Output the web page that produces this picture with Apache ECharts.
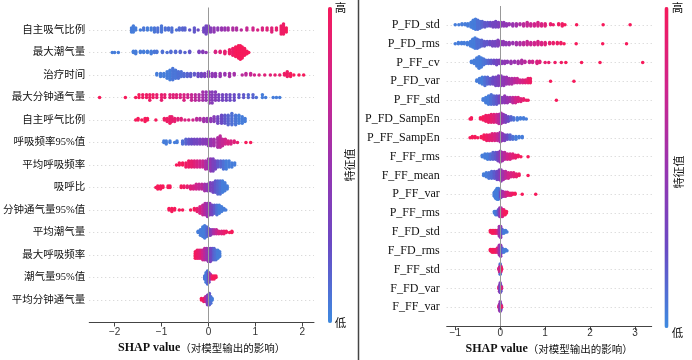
<!DOCTYPE html>
<html><head><meta charset="utf-8">
<script src="https://cdn.jsdelivr.net/npm/echarts@6/dist/echarts.min.js"></script>
<style>html,body{margin:0;padding:0;background:#fff}#c{width:692px;height:360px}</style>
</head><body><div id="c"></div>
<script>
// ---------- labels ----------
const leftFeatures = ['自主吸气比例','最大潮气量','治疗时间','最大分钟通气量','自主呼气比例','呼吸频率95%值','平均呼吸频率','吸呼比','分钟通气量95%值','平均潮气量','最大呼吸频率','潮气量95%值','平均分钟通气量'];
const rightFeatures = ['P_FD_std','P_FD_rms','P_FF_cv','P_FD_var','P_FF_std','P_FD_SampEn','P_FF_SampEn','F_FF_rms','F_FF_mean','P_FF_var','P_FF_rms','F_FD_std','F_FD_rms','F_FF_std','F_FD_var','F_FF_var'];
const xTicksLeft = [-2,-1,0,1,2];
const xTicksRight = [-1,0,1,2,3];
const colorHigh = '高', colorLow = '低', colorTitle = '特征值';
const axisTitleBold = 'SHAP value', axisTitleRest = '（对模型输出的影响）';

// ---------- data: [SHAP value, number of points, normalized feature value 0(low)..1(high)] ----------
const L01 = [[-1.64,3,0.05],[-1.6,4,0.05],[-1.55,2,0.05],[-1.45,1,0.05],[-1.38,2,0.08],[-1.3,2,0.05],[-1.22,2,0.05],[-1.15,3,0.08],[-1.08,3,0.1],[-1.0,4,0.08],[-0.92,2,0.1],[-0.85,2,0.1],[-0.78,3,0.1],[-0.68,1,0.1],[-0.62,2,0.12],[-0.55,2,0.15],[-0.5,2,0.15],[-0.4,1,0.2],[-0.3,3,0.2],[-0.22,1,0.25],[-0.1,3,0.3],[-0.05,5,0.3],[0.0,4,0.35],[0.05,3,0.4],[0.12,3,0.45],[0.2,2,0.45],[0.28,2,0.5],[0.35,2,0.5],[0.42,2,0.55],[0.52,2,0.6],[0.6,2,0.6],[0.7,1,0.65],[0.82,2,0.7],[0.95,2,0.75],[1.05,1,0.8],[1.15,2,0.8],[1.25,2,0.85],[1.35,3,0.85],[1.45,2,0.9],[1.55,5,0.95],[1.6,6,0.95],[1.66,3,1.0]];
const L02 = [[-2.05,1,0.05],[-2.0,1,0.05],[-1.92,1,0.05],[-1.6,2,0.05],[-1.55,3,0.05],[-1.45,2,0.05],[-1.38,2,0.05],[-1.3,2,0.05],[-1.22,3,0.05],[-1.15,2,0.08],[-1.1,2,0.08],[-0.98,2,0.1],[-0.88,1,0.1],[-0.8,2,0.12],[-0.7,2,0.12],[-0.6,2,0.15],[-0.5,1,0.15],[-0.4,2,0.2],[-0.2,2,0.35],[-0.12,2,0.4],[-0.05,1,0.45],[0.15,2,0.8],[0.25,2,0.85],[0.35,3,0.9],[0.45,4,0.95],[0.52,6,0.95],[0.58,8,1],[0.64,10,1],[0.68,11,1],[0.72,9,1],[0.77,6,1],[0.82,3,1],[0.86,1,1]];
const L03 = [[-1.1,2,0.05],[-1.02,3,0.05],[-0.95,3,0.05],[-0.88,5,0.05],[-0.82,7,0.05],[-0.76,8,0.08],[-0.7,6,0.08],[-0.64,5,0.1],[-0.58,4,0.1],[-0.52,3,0.12],[-0.45,3,0.15],[-0.38,3,0.18],[-0.3,2,0.2],[-0.22,3,0.25],[-0.15,3,0.3],[-0.08,3,0.35],[0.0,4,0.4],[0.08,3,0.45],[0.15,3,0.45],[0.25,3,0.5],[0.35,2,0.5],[0.45,3,0.55],[0.55,2,0.55],[0.72,1,0.65],[0.8,2,0.65],[0.9,2,0.7],[0.98,1,0.75],[1.08,1,0.8],[1.2,1,0.85],[1.32,1,0.85],[1.42,1,0.9],[1.52,1,0.9],[1.62,2,0.95],[1.68,4,0.95],[1.75,3,1],[1.82,1,1],[1.93,1,1],[2.03,1,1]];
const L04 = [[-2.32,1,1],[-1.77,1,1],[-1.55,1,1],[-1.48,2,1],[-1.4,2,0.95],[-1.32,2,0.95],[-1.25,3,0.95],[-1.18,2,0.95],[-1.1,2,0.9],[-1.0,3,0.9],[-0.93,2,0.9],[-0.82,2,0.85],[-0.75,2,0.85],[-0.68,2,0.85],[-0.6,2,0.8],[-0.52,3,0.8],[-0.44,2,0.75],[-0.36,3,0.7],[-0.28,3,0.65],[-0.2,3,0.6],[-0.12,4,0.55],[-0.05,4,0.5],[0.02,5,0.45],[0.08,5,0.4],[0.15,4,0.4],[0.22,3,0.35],[0.3,3,0.3],[0.38,3,0.3],[0.46,3,0.25],[0.55,3,0.25],[0.65,2,0.2],[0.75,2,0.2],[0.85,2,0.15],[0.95,2,0.15],[1.02,1,0.1],[1.15,2,0.05],[1.22,1,0.05],[1.38,1,0.05],[1.45,1,0.05],[1.52,1,0.05]];
const L05 = [[-1.55,1,1],[-1.5,2,1],[-1.42,1,1],[-1.35,3,1],[-1.3,2,1],[-1.12,1,1],[-0.94,2,0.95],[-0.88,3,0.95],[-0.82,5,0.95],[-0.78,4,0.9],[-0.72,3,0.9],[-0.65,2,0.85],[-0.58,2,0.85],[-0.5,1,0.8],[-0.42,1,0.8],[-0.33,1,0.75],[-0.25,2,0.65],[-0.18,2,0.6],[-0.1,3,0.55],[-0.03,3,0.5],[0.05,3,0.45],[0.12,4,0.4],[0.2,5,0.3],[0.28,6,0.25],[0.35,6,0.2],[0.42,7,0.15],[0.5,8,0.1],[0.58,7,0.08],[0.65,6,0.05],[0.72,5,0.05],[0.78,3,0.05]];
const L06 = [[-0.95,2,0.05],[-0.9,3,0.05],[-0.82,2,0.05],[-0.72,1,0.05],[-0.67,2,0.05],[-0.55,3,0.1],[-0.48,4,0.15],[-0.42,4,0.2],[-0.36,4,0.25],[-0.3,4,0.3],[-0.24,4,0.3],[-0.18,4,0.35],[-0.12,4,0.4],[-0.06,4,0.4],[0.0,5,0.45],[0.06,5,0.5],[0.12,5,0.55],[0.2,7,0.6],[0.25,8,0.65],[0.3,5,0.7],[0.36,4,0.75],[0.42,3,0.8],[0.48,3,0.8],[0.55,2,0.85],[0.62,1,0.9],[0.8,1,1],[0.9,1,1]];
const L07 = [[-0.68,1,1],[-0.62,2,1],[-0.55,2,1],[-0.48,3,0.95],[-0.42,4,0.95],[-0.36,4,0.9],[-0.3,4,0.85],[-0.24,4,0.8],[-0.18,4,0.75],[-0.12,4,0.7],[-0.06,5,0.6],[0.0,6,0.5],[0.05,7,0.45],[0.1,7,0.35],[0.15,5,0.3],[0.2,4,0.2],[0.26,4,0.15],[0.32,5,0.1],[0.38,5,0.05],[0.44,4,0.05],[0.5,3,0.05],[0.56,2,0.05]];
const L08 = [[-1.12,1,1],[-1.08,3,1],[-1.02,3,1],[-0.97,2,1],[-0.86,2,1],[-0.82,2,1],[-0.58,2,1],[-0.52,2,0.95],[-0.45,2,0.9],[-0.38,3,0.85],[-0.32,3,0.8],[-0.26,4,0.75],[-0.2,4,0.7],[-0.14,4,0.65],[-0.08,5,0.55],[-0.02,5,0.45],[0.04,6,0.35],[0.1,7,0.3],[0.15,8,0.2],[0.2,9,0.15],[0.25,9,0.1],[0.3,8,0.05],[0.35,6,0.05],[0.4,3,0.05]];
const L09 = [[-0.84,2,1],[-0.78,3,1],[-0.72,2,1],[-0.62,1,1],[-0.55,1,1],[-0.38,1,1],[-0.3,2,1],[-0.24,3,0.9],[-0.18,5,0.8],[-0.12,7,0.7],[-0.07,8,0.6],[-0.02,9,0.5],[0.03,8,0.4],[0.08,7,0.3],[0.13,6,0.2],[0.18,7,0.1],[0.23,6,0.05],[0.28,4,0.05],[0.33,2,0.05],[0.37,1,0.05]];
const L10 = [[-0.22,2,0.05],[-0.17,5,0.05],[-0.12,8,0.05],[-0.08,10,0.05],[-0.04,8,0.1],[0.0,6,0.2],[0.04,5,0.35],[0.08,4,0.45],[0.12,4,0.6],[0.17,4,0.7],[0.22,3,0.8],[0.28,3,0.85],[0.33,3,0.9],[0.38,2,0.95],[0.45,1,1],[0.5,2,1]];
const L11 = [[-0.28,5,1],[-0.24,6,0.95],[-0.2,6,0.9],[-0.16,6,0.85],[-0.12,7,0.75],[-0.08,8,0.65],[-0.04,8,0.55],[0.0,9,0.45],[0.04,9,0.35],[0.08,8,0.25],[0.12,8,0.15],[0.16,7,0.1],[0.2,6,0.05],[0.24,4,0.05]];
const L12 = [[-0.08,3,0.1],[-0.05,7,0.05],[-0.02,9,0.1],[0.01,7,0.3],[0.04,4,0.6],[0.08,3,0.95],[0.12,3,1],[0.16,2,1]];
const L13 = [[-0.15,2,1],[-0.1,3,0.95],[-0.06,4,0.7],[-0.02,7,0.4],[0.02,8,0.2],[0.05,5,0.1],[0.08,2,0.05]];

const R01 = [[-1.0,1,0.05],[-0.92,1,0.05],[-0.85,2,0.05],[-0.78,2,0.05],[-0.72,3,0.05],[-0.65,5,0.05],[-0.6,8,0.05],[-0.55,10,0.05],[-0.5,9,0.1],[-0.45,7,0.1],[-0.4,6,0.15],[-0.34,5,0.2],[-0.28,4,0.2],[-0.22,4,0.25],[-0.16,5,0.3],[-0.1,6,0.3],[-0.04,5,0.35],[0.02,4,0.4],[0.08,4,0.45],[0.14,3,0.45],[0.2,2,0.5],[0.28,3,0.5],[0.36,3,0.55],[0.44,2,0.6],[0.52,3,0.65],[0.6,4,0.7],[0.68,3,0.72],[0.76,3,0.75],[0.84,4,0.78],[0.92,3,0.8],[1.0,3,0.85],[1.12,2,0.9],[1.18,1,0.92],[1.3,2,0.95],[1.38,3,0.95],[1.44,1,1],[1.7,1,1],[2.29,1,1],[2.89,1,1]];
const R02 = [[-1.0,1,0.05],[-0.93,2,0.05],[-0.86,2,0.05],[-0.8,2,0.05],[-0.73,3,0.05],[-0.66,5,0.05],[-0.61,8,0.05],[-0.56,10,0.05],[-0.51,9,0.1],[-0.46,7,0.1],[-0.41,6,0.15],[-0.35,5,0.2],[-0.29,4,0.2],[-0.23,4,0.25],[-0.17,5,0.3],[-0.11,5,0.3],[-0.05,6,0.35],[0.01,4,0.4],[0.07,4,0.45],[0.13,3,0.45],[0.2,3,0.5],[0.28,2,0.5],[0.36,3,0.55],[0.44,3,0.6],[0.52,3,0.65],[0.6,4,0.7],[0.68,3,0.72],[0.76,3,0.75],[0.84,4,0.78],[0.92,3,0.8],[1.0,3,0.85],[1.1,2,0.9],[1.18,2,0.92],[1.27,2,0.95],[1.35,2,0.95],[1.42,1,1],[1.69,1,1],[2.28,1,1],[2.81,1,1]];
const R03 = [[-0.64,2,0.05],[-0.58,4,0.05],[-0.52,8,0.05],[-0.47,11,0.05],[-0.42,9,0.05],[-0.37,6,0.08],[-0.32,4,0.1],[-0.26,4,0.15],[-0.2,4,0.2],[-0.14,4,0.25],[-0.08,5,0.3],[-0.02,4,0.35],[0.04,3,0.4],[0.1,3,0.45],[0.16,2,0.45],[0.24,3,0.5],[0.32,2,0.5],[0.4,3,0.55],[0.48,4,0.6],[0.55,2,0.65],[0.65,2,0.7],[0.72,2,0.75],[0.82,3,0.8],[0.88,2,0.85],[1.0,1,0.9],[1.08,1,0.9],[1.22,1,0.95],[1.36,1,0.95],[1.46,1,1],[1.81,1,1],[2.22,1,1],[3.17,1,1]];
const R04 = [[-0.52,2,0.05],[-0.46,4,0.05],[-0.4,6,0.05],[-0.34,7,0.1],[-0.28,6,0.15],[-0.22,5,0.2],[-0.16,6,0.25],[-0.1,7,0.3],[-0.04,8,0.35],[0.02,8,0.4],[0.08,7,0.45],[0.14,6,0.5],[0.2,5,0.55],[0.26,5,0.6],[0.32,4,0.65],[0.38,4,0.7],[0.44,3,0.75],[0.5,3,0.8],[0.56,3,0.85],[0.62,4,0.9],[0.67,4,0.95],[1.12,1,1],[1.64,1,1]];
const R05 = [[-0.38,2,0.05],[-0.32,5,0.05],[-0.26,7,0.05],[-0.2,8,0.1],[-0.14,7,0.15],[-0.08,7,0.2],[-0.02,6,0.3],[0.04,5,0.4],[0.1,6,0.45],[0.16,5,0.5],[0.22,4,0.55],[0.28,5,0.65],[0.34,5,0.75],[0.4,4,0.8],[0.46,3,0.85],[0.52,2,0.9],[0.58,1,0.95],[0.62,1,0.95],[1.25,1,1]];
const R06 = [[-0.67,1,1],[-0.64,2,1],[-0.44,2,1],[-0.38,4,1],[-0.32,6,0.95],[-0.26,7,0.95],[-0.2,8,0.9],[-0.14,8,0.85],[-0.08,8,0.75],[-0.03,9,0.65],[0.02,10,0.55],[0.07,8,0.45],[0.12,7,0.35],[0.18,5,0.25],[0.24,4,0.15],[0.3,3,0.1],[0.38,3,0.05],[0.45,2,0.05],[0.52,2,0.05],[0.58,1,0.05]];
const R07 = [[-0.67,1,1],[-0.62,2,1],[-0.56,2,1],[-0.5,1,1],[-0.42,2,1],[-0.36,4,1],[-0.3,5,0.95],[-0.24,5,0.9],[-0.18,6,0.85],[-0.12,6,0.8],[-0.06,6,0.7],[0.0,8,0.55],[0.05,6,0.45],[0.1,5,0.35],[0.16,4,0.25],[0.22,4,0.15],[0.28,3,0.1],[0.35,3,0.05],[0.42,2,0.05],[0.49,2,0.05]];
const R08 = [[-0.4,2,0.05],[-0.34,4,0.05],[-0.28,5,0.05],[-0.22,5,0.1],[-0.16,6,0.15],[-0.1,6,0.2],[-0.05,7,0.3],[0.0,9,0.45],[0.05,7,0.55],[0.1,6,0.65],[0.16,5,0.75],[0.22,5,0.8],[0.28,4,0.85],[0.34,3,0.9],[0.4,2,0.95],[0.46,1,1],[0.62,1,1]];
const R09 = [[-0.37,2,0.05],[-0.31,4,0.05],[-0.25,5,0.08],[-0.19,6,0.12],[-0.13,6,0.18],[-0.07,7,0.25],[-0.02,8,0.35],[0.02,9,0.45],[0.07,7,0.55],[0.12,6,0.65],[0.18,5,0.75],[0.24,4,0.8],[0.3,4,0.85],[0.36,3,0.9],[0.42,2,0.95],[0.62,1,1]];
const R10 = [[-0.13,5,0.05],[-0.1,9,0.05],[-0.07,12,0.05],[-0.04,12,0.05],[-0.01,10,0.1],[0.02,7,0.3],[0.05,6,0.5],[0.08,5,0.6],[0.12,5,0.7],[0.16,4,0.8],[0.2,3,0.85],[0.24,3,0.9],[0.28,2,0.95],[0.33,2,1],[0.49,1,1],[0.79,1,1]];
const R11 = [[-0.13,2,0.05],[-0.1,3,0.05],[-0.07,3,0.1],[-0.04,4,0.2],[-0.01,6,0.4],[0.02,6,0.6],[0.05,5,0.8],[0.08,4,0.9],[0.11,3,1],[0.14,2,1]];
const R12 = [[-0.22,2,1],[-0.18,3,1],[-0.14,3,1],[-0.1,3,0.95],[-0.06,3,0.85],[-0.02,8,0.55],[0.01,9,0.45],[0.04,4,0.2],[0.08,3,0.05],[0.12,2,0.05],[0.15,1,0.05]];
const R13 = [[-0.22,2,1],[-0.18,3,1],[-0.14,3,1],[-0.1,3,0.95],[-0.06,4,0.85],[-0.02,8,0.55],[0.01,9,0.45],[0.04,4,0.2],[0.08,3,0.05],[0.12,2,0.05],[0.15,1,0.05]];
const R14 = [[-0.03,2,0.9],[-0.015,5,0.85],[0.0,8,0.6],[0.015,6,0.8],[0.03,2,0.95],[0.0,2,0.1]];
const R15 = [[-0.03,2,0.9],[-0.015,5,0.6],[0.0,8,0.35],[0.015,5,0.2],[0.03,2,0.8]];
const R16 = [[-0.03,2,0.85],[-0.015,5,0.7],[0.0,8,0.45],[0.015,5,0.3],[0.03,2,0.9]];

const leftRows = [L01,L02,L03,L04,L05,L06,L07,L08,L09,L10,L11,L12,L13];
const rightRows = [R01,R02,R03,R04,R05,R06,R07,R08,R09,R10,R11,R12,R13,R14,R15,R16];

// ---------- beeswarm layout (as in shap: 100 bins per feature, alternate stacking) ----------
function expand(cl){ const p=[]; cl.forEach(([v,n,c])=>{ for(let k=0;k<n;k++) p.push([v,c]); }); return p; }
function swarm(cl, rowY){
  const pts = expand(cl);
  const vs = pts.map(p=>p[0]);
  const mn = Math.min(...vs), mx = Math.max(...vs);
  const q = vs.map(v=>Math.round(100*(v-mn)/(mx-mn+1e-8)));
  const order = pts.map((_,i)=>i).sort((a,b)=>(q[a]-q[b])||(a-b));
  const ys = new Array(pts.length).fill(0);
  let layer=0, last=-1;
  for(const i of order){ if(q[i]!==last) layer=0; ys[i]=Math.ceil(layer/2)*((layer%2)*2-1); layer++; last=q[i]; }
  const m = Math.max(...ys.map(y=>y+1));
  const s = 0.9*(0.4/m);
  return pts.map((p,i)=>[p[0], rowY+ys[i]*s, p[1]]);
}
function buildPanel(rows){ const n=rows.length; let out=[]; rows.forEach((r,i)=>{ out=out.concat(swarm(r, n-1-i)); }); return out; }

const leftData = buildPanel(leftRows);
const rightData = buildPanel(rightRows);

const cmap = ['#3d8ae0','#6a4ac4','#9834b0','#d0248c','#f61a5b'];
const serif = "'Liberation Serif','Noto Sans CJK SC',serif";
const cjk = "'Noto Sans CJK SC',sans-serif";
const minus = v => String(v).replace('-', '\u2212');

function yAxisFor(names, gi, margin, font, size){
  const n = names.length;
  return { type:'value', gridIndex:gi, min:-1, max:n, interval:1,
    axisLine:{show:false}, axisTick:{show:false},
    splitLine:{show:true, showMinLine:false, showMaxLine:false, lineStyle:{color:'#cfcfcf', width:1, type:[1,3]}},
    axisLabel:{margin:margin, color:'#111', fontFamily:font, fontSize:size,
      formatter: v => (v>=0 && v<n) ? names[n-1-v] : ''} };
}
function xAxisFor(gi, mn, mx, ticks, labelMargin, nameGap){
  return { type:'value', gridIndex:gi, min:mn, max:mx,
    axisLine:{show:true, onZero:false, lineStyle:{color:'#444', width:1}},
    axisTick:{show:true, length:4, customValues:ticks, lineStyle:{color:'#444'}},
    axisLabel:{customValues:ticks, formatter:minus, color:'#333', fontFamily:"'Liberation Sans',sans-serif", fontSize:10, margin:labelMargin},
    splitLine:{show:false},
    name:'{b|'+axisTitleBold+'}{n|'+axisTitleRest+'}', nameLocation:'middle', nameGap:nameGap,
    nameTextStyle:{rich:{b:{fontFamily:"'Liberation Serif',serif", fontWeight:'bold', fontSize:12, color:'#111'},
                         n:{fontFamily:cjk, fontSize:10.5, color:'#111'}}} };
}
function scatterFor(gi, data){
  return { type:'scatter', xAxisIndex:gi, yAxisIndex:gi, data:data, symbolSize:3.5, z:2,
    itemStyle:{opacity:1}, silent:true,
    markLine:{silent:true, symbol:['none','none'], label:{show:false}, animation:false,
      lineStyle:{color:'#999', width:1, type:'solid'}, emphasis:{disabled:true}, data:[{xAxis:0}]} };
}
function vmFor(si, left, top, h){
  return { type:'continuous', seriesIndex:si, dimension:2, min:0, max:1, orient:'vertical',
    left:left, top:top, itemWidth:4, itemHeight:h, padding:0, calculable:false, hoverLink:false,
    text:null, inRange:{color:cmap} };
}
function txt(x,y,s,size,rot){
  const o = { type:'text', x:x, y:y, silent:true, z:10,
    style:{text:s, fill:'#111', fontSize:size, fontFamily:cjk, align:'center', verticalAlign:'middle'} };
  if (rot) o.rotation = rot;
  return o;
}

const chart = echarts.init(document.getElementById('c'));
chart.setOption({
  animation:false,
  backgroundColor:'#fff',
  grid:[{left:88, top:7.5, width:226, height:315}, {left:446.7, top:6, width:205, height:324}],
  xAxis:[xAxisFor(0,-2.54,2.25,xTicksLeft,5,18), xAxisFor(1,-1.19,3.37,xTicksRight,2,16)],
  yAxis:[yAxisFor(leftFeatures,0,4,serif,10.5), yAxisFor(rightFeatures,1,7,serif,12)],
  visualMap:[vmFor(0,328,7,316), vmFor(1,664.5,7,321)],
  series:[scatterFor(0,leftData), scatterFor(1,rightData)],
  graphic:[
    {type:'line', silent:true, shape:{x1:358.5,y1:0,x2:358.5,y2:360}, style:{stroke:'#444', lineWidth:1.5}},
    txt(340.5,8,colorHigh,11.5), txt(340.5,322.5,colorLow,11.5), txt(349.5,165,colorTitle,11,Math.PI/2),
    txt(677.5,8,colorHigh,11.5), txt(677.5,333,colorLow,11.5), txt(679,172,colorTitle,11,Math.PI/2)
  ]
});
</script></body></html>
